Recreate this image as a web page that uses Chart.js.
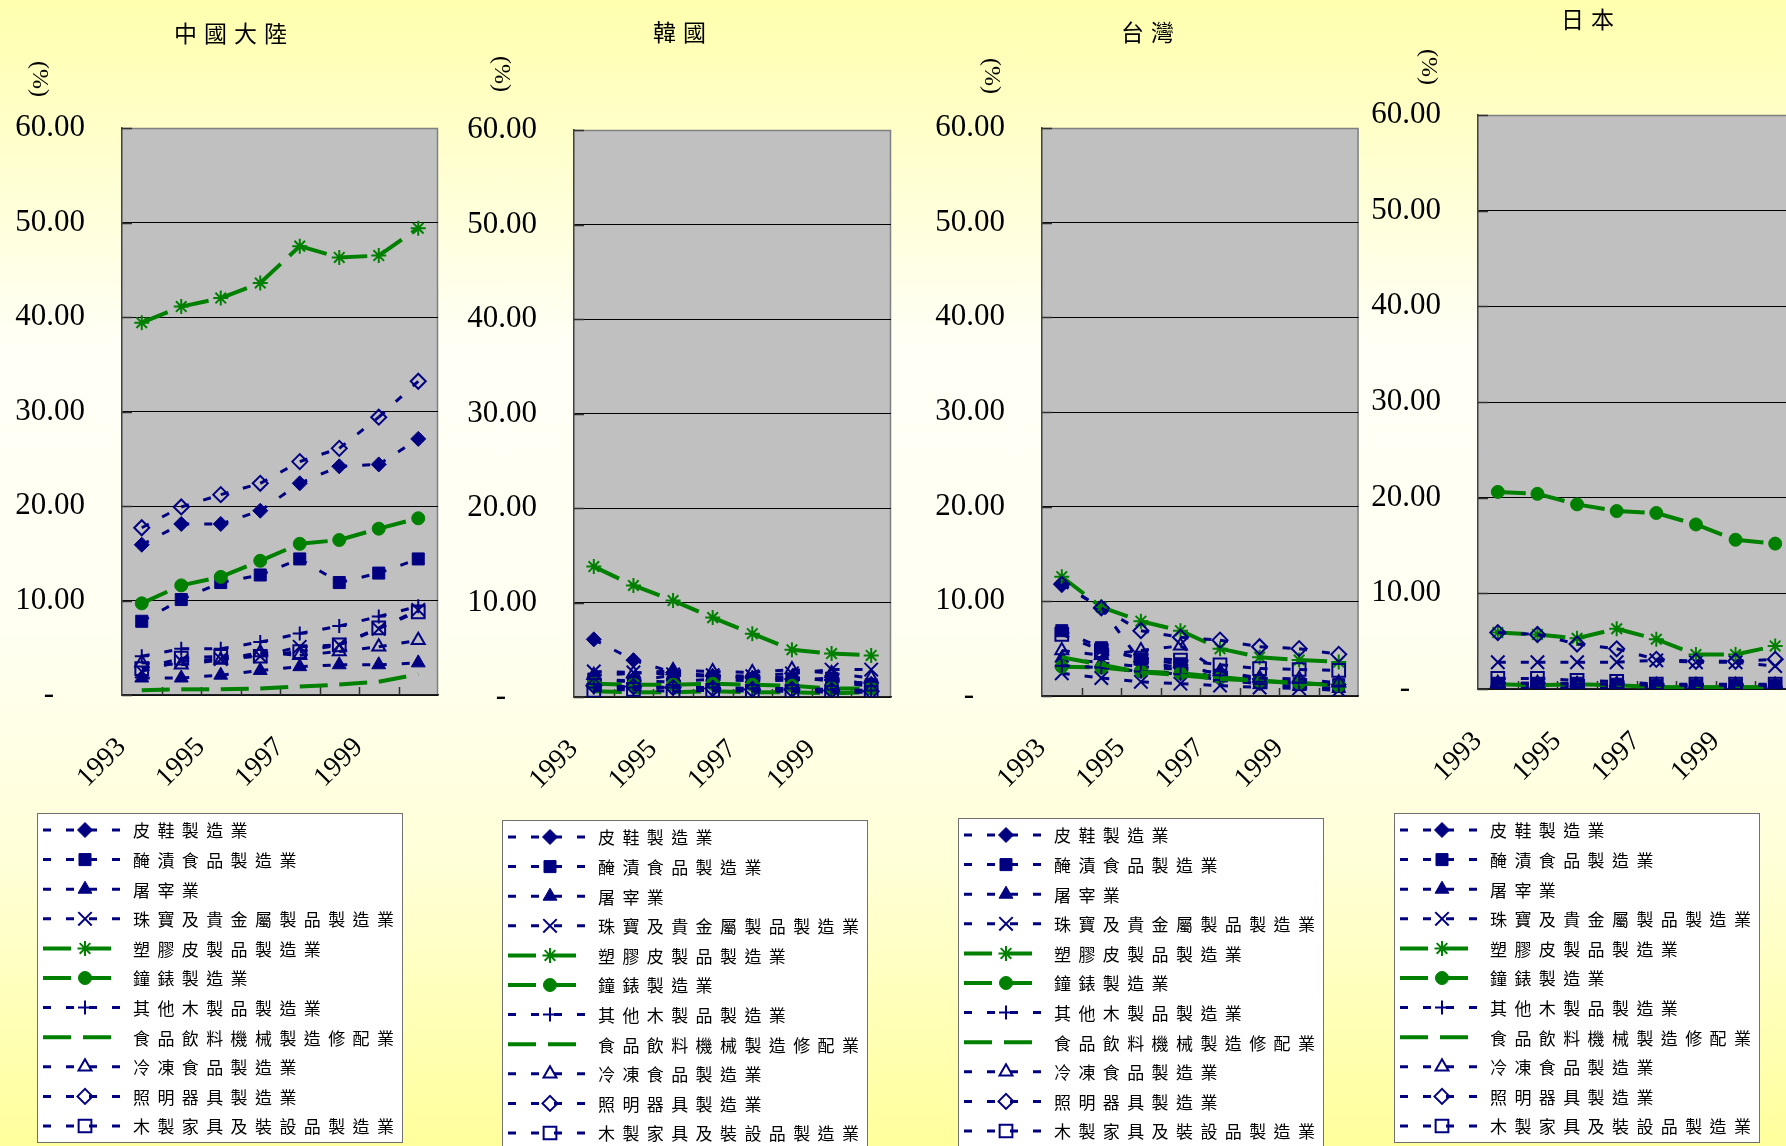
<!DOCTYPE html>
<html>
<head>
<meta charset="utf-8">
<script src="https://cdn.jsdelivr.net/npm/chart.js@4.4.1/dist/chart.umd.min.js"></script>
<style>
  html, body { margin: 0; padding: 0; width: 1786px; height: 1146px; overflow: hidden; }
  body {
    position: relative;
    background: linear-gradient(to bottom, #FFFFAE 0%, #FFFFF6 30%, #FFFFF2 55%, #FFFFD8 75%, #FFFF9C 100%);
  }
  canvas { position: absolute; top: 0; }
</style>
</head>
<body>
<canvas id="panel0"></canvas>
<canvas id="panel1"></canvas>
<canvas id="panel2"></canvas>
<canvas id="panel3"></canvas>
<script>
// ---- data -------------------------------------------------------------
const years = ['1993', '1994', '1995', '1996', '1997', '1998', '1999', '2000'];
const regions = ['中國大陸', '韓國', '台灣', '日本'];
const industries = [
  '皮鞋製造業',
  '醃漬食品製造業',
  '屠宰業',
  '珠寶及貴金屬製品製造業',
  '塑膠皮製品製造業',
  '鐘錶製造業',
  '其他木製品製造業',
  '食品飲料機械製造修配業',
  '冷凍食品製造業',
  '照明器具製造業',
  '木製家具及裝設品製造業'
];
const valueTicks = [0, 10, 20, 30, 40, 50, 60];

// share (%) by industry, one row per industry in the order above
const chinaShares = [
  [15.9, 18.1, 18.1, 19.5, 22.4, 24.2, 24.4, 27.1],
  [7.8, 10.1, 11.9, 12.7, 14.4, 11.9, 12.9, 14.4],
  [1.8, 1.8, 2.1, 2.6, 3.0, 3.2, 3.2, 3.4],
  [2.5, 3.6, 3.8, 4.1, 5.1, 5.3, 7.0, 9.0],
  [39.4, 41.1, 42.0, 43.6, 47.5, 46.3, 46.5, 49.4],
  [9.7, 11.6, 12.5, 14.2, 16.0, 16.4, 17.6, 18.7],
  [4.1, 4.9, 4.9, 5.6, 6.5, 7.3, 8.3, 9.4],
  [0.5, 0.6, 0.6, 0.7, 0.9, 1.1, 1.4, 2.2],
  [3.4, 3.2, 3.7, 4.5, 4.2, 4.6, 5.1, 5.8],
  [17.7, 19.9, 21.2, 22.4, 24.7, 26.1, 29.4, 33.2],
  [2.8, 3.9, 4.1, 4.1, 4.6, 5.3, 7.1, 8.8]
];
const koreaShares = [
  [6.1, 3.9, 2.6, 2.2, 2.0, 1.9, 1.8, 1.4],
  [1.9, 1.7, 1.6, 1.9, 1.7, 1.8, 2.0, 1.3],
  [1.6, 1.7, 2.3, 2.2, 2.0, 2.1, 1.7, 1.1],
  [2.7, 2.6, 2.4, 2.3, 2.2, 2.5, 2.9, 2.9],
  [13.8, 11.8, 10.2, 8.4, 6.7, 5.0, 4.6, 4.4],
  [1.4, 1.3, 1.3, 1.4, 1.3, 1.2, 0.9, 0.9],
  [1.0, 1.0, 1.0, 1.0, 0.9, 0.9, 0.8, 0.7],
  [0.6, 0.5, 0.5, 0.6, 0.5, 0.5, 0.4, 0.5],
  [2.3, 2.5, 2.8, 2.7, 2.6, 2.9, 2.5, 2.0],
  [1.2, 1.1, 1.0, 0.9, 0.8, 0.8, 0.7, 0.6],
  [0.7, 0.8, 0.6, 0.7, 0.6, 0.6, 0.5, 0.5]
];
const taiwanShares = [
  [11.9, 9.3, 3.6, 3.0, 2.4, 1.8, 1.5, 1.2],
  [6.9, 5.1, 3.9, 3.4, 2.2, 1.6, 1.3, 1.2],
  [4.0, 3.5, 3.1, 2.8, 1.9, 1.2, 1.0, 0.8],
  [2.4, 1.9, 1.5, 1.3, 1.1, 0.9, 0.8, 0.6],
  [12.6, 9.4, 7.9, 6.9, 5.0, 4.1, 3.8, 3.6],
  [3.1, 3.0, 2.6, 2.4, 2.0, 1.6, 1.4, 1.1],
  [3.2, 3.0, 2.6, 2.3, 1.7, 1.3, 1.4, 1.1],
  [4.1, 3.3, 2.5, 2.2, 1.8, 1.6, 1.3, 1.2],
  [4.8, 4.3, 4.8, 5.3, 2.6, 1.9, 1.8, 1.4],
  [11.8, 9.3, 6.9, 6.2, 5.9, 5.2, 5.0, 4.4],
  [6.5, 4.8, 4.0, 3.8, 3.3, 2.9, 2.8, 2.7]
];
const japanShares = [
  [0.3, 0.3, 0.3, 0.3, 0.2, 0.2, 0.2, 0.2],
  [0.6, 0.6, 0.6, 0.5, 0.4, 0.4, 0.4, 0.4],
  [0.1, 0.1, 0.1, 0.1, 0.1, 0.1, 0.1, 0.1],
  [2.8, 2.8, 2.8, 2.8, 3.0, 2.8, 2.8, 2.4],
  [5.9, 5.7, 5.3, 6.3, 5.2, 3.6, 3.6, 4.5],
  [20.6, 20.4, 19.3, 18.6, 18.4, 17.2, 15.6, 15.2],
  [0.5, 0.5, 0.4, 0.4, 0.3, 0.3, 0.3, 0.3],
  [0.5, 0.4, 0.5, 0.4, 0.2, 0.2, 0.2, 0.2],
  [0.6, 0.6, 0.5, 0.5, 0.4, 0.4, 0.4, 0.4],
  [5.9, 5.7, 4.7, 4.2, 3.1, 2.9, 2.9, 3.1],
  [1.1, 1.1, 0.9, 0.8, 0.5, 0.5, 0.5, 0.5]
];
const regionShares = [chinaShares, koreaShares, taiwanShares, japanShares];

// ---- styles -----------------------------------------------------------
const NAVY = '#000080';
const GREEN = '#008000';
const NONE = 'rgba(0,0,0,0)';
const SERIF = "'Liberation Serif', 'Times New Roman', serif";
const CJK = "'Noto Sans CJK TC', 'Noto Sans CJK SC', sans-serif";

const navyLine = { color: NAVY, width: 3, dash: [8, 15] };
const greenLine = { color: GREEN, width: 4, dash: [28, 12] };
const seriesStyle = [
  { ...navyLine, point: 'rectRot', radius: 7.5, fill: NAVY, pw: 1 },
  { ...navyLine, point: 'rect', radius: 8.5, fill: NAVY, pw: 1 },
  { ...navyLine, point: 'triangle', radius: 8, fill: NAVY, pw: 1 },
  { ...navyLine, point: 'crossRot', radius: 9.5, fill: NONE, pw: 2 },
  { ...greenLine, point: 'star', radius: 7.5, fill: NONE, pw: 2 },
  { ...greenLine, point: 'circle', radius: 6.5, fill: GREEN, pw: 1 },
  { ...navyLine, point: 'cross', radius: 7, fill: NONE, pw: 2 },
  { ...greenLine, point: 'circle', radius: 0, fill: NONE, pw: 0 },
  { ...navyLine, point: 'triangle', radius: 7.5, fill: NONE, pw: 2 },
  { ...navyLine, point: 'rectRot', radius: 7.5, fill: NONE, pw: 2 },
  { ...navyLine, point: 'rect', radius: 9, fill: NONE, pw: 2 }
];

// page placement of each panel (canvas strip, plot area, text anchors)
const layoutSpec = [
  { left: 0,    width: 460, area: { l: 122,  r: 438,  t: 128, b: 695 }, title: [231, 33],  pct: [39, 79],   legend: [37, 813] },
  { left: 460,  width: 470, area: { l: 574,  r: 891,  t: 130, b: 697 }, title: [680, 32],  pct: [501, 74],  legend: [502, 820] },
  { left: 930,  width: 440, area: { l: 1042, r: 1359, t: 128, b: 696 }, title: [1148, 32], pct: [991, 76],  legend: [958, 818] },
  { left: 1362, width: 450, area: { l: 1478, r: 1795, t: 115, b: 689 }, title: [1588, 19], pct: [1428, 67], legend: [1394, 813] }
];
const PAGE_H = 1146;

// ---- plot frame, inner ticks, titles, unit label and boxed legend -------
const panelDeco = {
  id: 'panelDeco',
  beforeDraw(chart) {
    const { ctx, chartArea: a } = chart;
    ctx.save();
    ctx.fillStyle = '#C0C0C0';
    ctx.fillRect(a.left, a.top, a.right - a.left, a.bottom - a.top);
    ctx.strokeStyle = '#808080';
    ctx.lineWidth = 1.5;
    ctx.beginPath();
    ctx.moveTo(a.left, a.top + 0.5);
    ctx.lineTo(a.right - 0.5, a.top + 0.5);
    ctx.lineTo(a.right - 0.5, a.bottom);
    ctx.stroke();
    ctx.restore();
  },
  beforeDatasetsDraw(chart) {
    const { ctx, chartArea: a, scales } = chart;
    const xs = scales.x, ys = scales.y;
    ctx.save();
    ctx.strokeStyle = '#303030';
    ctx.lineWidth = 1.5;
    ctx.beginPath();
    for (let i = 1; i < xs.ticks.length; i++) {
      const px = Math.round((xs.getPixelForTick(i - 1) + xs.getPixelForTick(i)) / 2) + 0.5;
      ctx.moveTo(px, a.bottom);
      ctx.lineTo(px, a.bottom - 8);
    }
    valueTicks.forEach(v => {
      const py = Math.round(ys.getPixelForValue(v)) + 0.5;
      ctx.moveTo(a.left, py);
      ctx.lineTo(a.left + 10, py);
    });
    ctx.stroke();
    ctx.restore();
  },
  afterDraw(chart, args, opts) {
    const { ctx } = chart;
    ctx.save();
    // panel title
    ctx.fillStyle = '#000';
    ctx.font = '23px ' + CJK;
    ctx.letterSpacing = '7px';
    ctx.textAlign = 'center';
    ctx.textBaseline = 'middle';
    ctx.fillText(opts.title, opts.titleX + 3, opts.titleY);
    // unit label, turned clockwise
    ctx.letterSpacing = '0px';
    ctx.save();
    ctx.translate(opts.pctX, opts.pctY);
    ctx.rotate(Math.PI / 2);
    ctx.font = '24px ' + SERIF;
    ctx.fillText('(%)', 0, 0);
    ctx.restore();
    // legend box
    const lx = opts.legendX, ly = opts.legendY;
    ctx.fillStyle = '#FFFFFF';
    ctx.fillRect(lx, ly, 366, 330);
    ctx.strokeStyle = '#707070';
    ctx.lineWidth = 1;
    ctx.strokeRect(lx + 0.5, ly + 0.5, 365, 329);
    chart.data.datasets.forEach((ds, i) => {
      const cy = ly + 17 + i * 29.6;
      ctx.save();
      ctx.strokeStyle = ds.borderColor;
      ctx.lineWidth = ds.borderWidth;
      ctx.setLineDash(ds.borderDash);
      ctx.beginPath();
      ctx.moveTo(lx + 6, cy);
      ctx.lineTo(lx + 86, cy);
      ctx.stroke();
      ctx.setLineDash([]);
      if (ds.pointRadius > 0) {
        ctx.fillStyle = ds.pointBackgroundColor;
        ctx.strokeStyle = ds.pointBorderColor;
        ctx.lineWidth = ds.pointBorderWidth;
        Chart.helpers.drawPoint(ctx, {
          pointStyle: ds.pointStyle, radius: ds.pointRadius,
          borderWidth: ds.pointBorderWidth, rotation: 0
        }, lx + 48, cy);
      }
      ctx.restore();
      ctx.fillStyle = '#000';
      ctx.font = '17px ' + CJK;
      ctx.letterSpacing = '7.4px';
      ctx.textAlign = 'left';
      ctx.textBaseline = 'middle';
      ctx.fillText(ds.label, lx + 96, cy + 1);
    });
    ctx.restore();
  }
};

function buildDatasets(shares) {
  return industries.map((name, i) => {
    const s = seriesStyle[i];
    return {
      label: name,
      data: shares[i],
      borderColor: s.color,
      borderWidth: s.width,
      borderDash: s.dash,
      pointStyle: s.point,
      pointRadius: s.radius,
      pointHoverRadius: s.radius,
      pointBackgroundColor: s.fill,
      pointBorderColor: s.color,
      pointBorderWidth: s.pw,
      tension: 0,
      fill: false,
      order: 20 - i,
      // each year-to-year piece restarts its dash pattern at the start marker
      segment: { borderDashOffset: c => c.p0DataIndex * 0.001 }
    };
  });
}

layoutSpec.forEach((spec, k) => {
  const canvas = document.getElementById('panel' + k);
  canvas.width = spec.width;
  canvas.height = PAGE_H;
  canvas.style.left = spec.left + 'px';
  const a = spec.area;
  const yWidth = a.l - spec.left;
  const padRight = spec.left + spec.width - a.r;
  const xHeight = PAGE_H - a.b;

  new Chart(canvas, {
    type: 'line',
    data: { labels: years, datasets: buildDatasets(regionShares[k]) },
    options: {
      responsive: false,
      animation: false,
      devicePixelRatio: 1,
      events: [],
      layout: { padding: { left: 0, right: padRight, top: a.t, bottom: 0 } },
      plugins: {
        legend: { display: false },
        title: { display: false },
        tooltip: { enabled: false },
        panelDeco: {
          title: regions[k],
          titleX: spec.title[0] - spec.left, titleY: spec.title[1],
          pctX: spec.pct[0] - spec.left, pctY: spec.pct[1],
          legendX: spec.legend[0] - spec.left, legendY: spec.legend[1]
        }
      },
      scales: {
        x: {
          type: 'category',
          offset: true,
          grid: {
            display: true,
            drawOnChartArea: false,
            drawTicks: true,
            tickLength: 36,
            tickColor: 'rgba(0,0,0,0)'
          },
          border: { display: true, color: '#202020', width: 1.5 },
          ticks: {
            autoSkip: false,
            minRotation: 45,
            maxRotation: 45,
            padding: 0,
            labelOffset: -20,
            color: '#000',
            font: { family: SERIF, size: 28 },
            callback: (v, i) => (i % 2 === 0 ? years[i] : '')
          },
          afterFit: s => { s.height = xHeight; }
        },
        y: {
          min: 0,
          max: 60,
          afterBuildTicks: s => { s.ticks = valueTicks.map(v => ({ value: v })); },
          grid: {
            drawTicks: false,
            lineWidth: 1,
            color: c => (c.tick && c.tick.value === 60 ? '#808080' : '#000000')
          },
          border: { display: true, color: '#404040', width: 1.5 },
          ticks: {
            padding: 37,
            color: '#000',
            font: { family: SERIF, size: 31 },
            callback: v => (v === 0 ? '-    ' : v.toFixed(2))
          },
          afterFit: s => { s.width = yWidth; }
        }
      }
    },
    plugins: [panelDeco]
  });
});
</script>
</body>
</html>
